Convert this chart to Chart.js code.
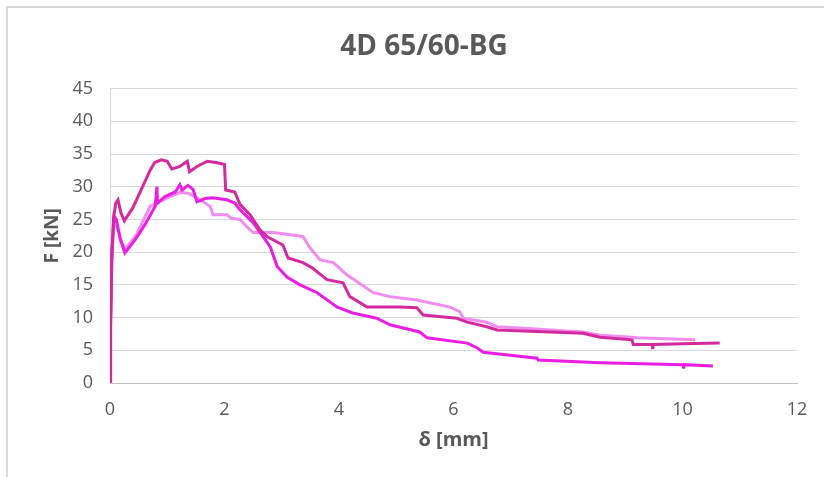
<!DOCTYPE html>
<html>
<head>
<meta charset="utf-8">
<script src="https://cdn.jsdelivr.net/npm/chart.js@4"></script>
<style>
  body { margin: 0; background: #fff; }
  #frame { position: absolute; left: 6px; top: 6px; width: 840px; height: 490px; border: 2px solid #d9d9d9; }
  #wrap { position: absolute; left: 0; top: 0; width: 824px; height: 477px; }
</style>
</head>
<body>
<div id="frame"></div>
<div id="wrap"><canvas id="myChart" width="824" height="477"></canvas></div>
<script>
// serie 1 (magenta escuro)
const s1X = [0, 0.01, 0.03, 0.06, 0.1, 0.14, 0.19, 0.25, 0.4, 0.58, 0.7, 0.78, 0.9, 1.0, 1.08, 1.22, 1.35, 1.39, 1.52, 1.7, 1.85, 2.0, 2.02, 2.18, 2.27, 2.45, 2.53, 2.62, 2.74, 3.02, 3.11, 3.37, 3.53, 3.79, 4.07, 4.19, 4.49, 5.07, 5.36, 5.47, 6.06, 6.24, 6.58, 6.76, 8.26, 8.56, 9.12, 9.14, 9.47, 9.48, 9.49, 10.01, 10.65];
const s1Y = [0, 8, 18, 25, 27.5, 28, 26, 24.8, 26.8, 30.2, 32.5, 33.7, 34.1, 33.9, 32.7, 33.1, 33.9, 32.3, 33.1, 33.9, 33.7, 33.4, 29.5, 29.2, 27.3, 25.7, 24.6, 23.4, 22.4, 21.1, 19.1, 18.4, 17.6, 15.8, 15.3, 13.2, 11.6, 11.6, 11.5, 10.4, 9.9, 9.3, 8.6, 8.1, 7.6, 7.0, 6.6, 5.9, 5.9, 5.2, 5.9, 6.0, 6.1];
// serie 2 (magenta vivo)
const s2X = [0, 0.01, 0.03, 0.07, 0.11, 0.18, 0.26, 0.44, 0.61, 0.79, 0.82, 0.83, 0.96, 1.14, 1.22, 1.26, 1.36, 1.45, 1.52, 1.66, 1.79, 2.04, 2.18, 2.27, 2.5, 2.67, 2.8, 2.92, 3.09, 3.32, 3.62, 3.97, 4.24, 4.66, 4.89, 5.41, 5.54, 6.24, 6.41, 6.52, 7.46, 7.48, 8.56, 10.01, 10.02, 10.03, 10.53];
const s2Y = [0, 10, 20, 25.5, 25, 22, 19.9, 21.9, 24.2, 27, 30, 27.5, 28.5, 29.2, 30.3, 29.5, 30.2, 29.6, 27.7, 28.2, 28.3, 28, 27.5, 26.5, 24.5, 22.4, 20.8, 17.8, 16.2, 15, 13.8, 11.6, 10.7, 9.9, 8.9, 7.8, 6.9, 6.1, 5.4, 4.7, 3.8, 3.5, 3.1, 2.8, 2.2, 2.8, 2.6];
// serie 3 (rosa claro)
const s3X = [0, 0.01, 0.03, 0.07, 0.12, 0.2, 0.27, 0.45, 0.7, 1.0, 1.22, 1.37, 1.52, 1.75, 1.8, 2.04, 2.12, 2.27, 2.39, 2.5, 2.85, 3.37, 3.49, 3.67, 3.9, 4.14, 4.31, 4.6, 4.89, 5.36, 5.94, 6.11, 6.17, 6.58, 6.76, 7.16, 8.26, 8.56, 9.12, 9.2, 10.22];
const s3Y = [0, 9, 19, 24.5, 24, 21.5, 20.5, 22.5, 27, 28.3, 29.1, 29, 28.3, 27, 25.7, 25.7, 25.2, 25, 23.9, 23, 23, 22.4, 20.7, 18.8, 18.4, 16.5, 15.5, 13.8, 13.2, 12.7, 11.6, 10.9, 9.9, 9.3, 8.6, 8.4, 7.8, 7.3, 7.0, 6.9, 6.6];

const xTicks = [0, 2, 4, 6, 8, 10, 12];
const yTicks = [0, 5, 10, 15, 20, 25, 30, 35, 40, 45];

function pontos(xs, ys) {
    return xs.map((x, i) => ({ x: x, y: ys[i] }));
}

function serie(label, xs, ys, cor) {
    return {
        label: label,
        data: pontos(xs, ys),
        borderColor: cor,
        backgroundColor: cor,
        borderWidth: 3,
        pointRadius: 0,
        showLine: true,
        tension: 0
    };
}

const fonte = 'Open Sans, sans-serif';

document.addEventListener('DOMContentLoaded', function () {
    var ctx = document.getElementById('myChart').getContext('2d');
    var myChart = new Chart(ctx, {
        type: 'scatter',
        data: {
            datasets: [
                serie('1', s1X, s1Y, '#d42aa0'),
                serie('2', s2X, s2Y, '#ea1ee2'),
                serie('3', s3X, s3Y, '#f28cf0')
            ]
        },
        options: {
            responsive: false,
            animation: false,
            layout: { padding: { left: 51, right: 27, top: 0, bottom: 0 } },
            plugins: {
                legend: { display: false },
                tooltip: { enabled: false },
                title: {
                    display: true,
                    text: '4D 65/60-BG',
                    color: '#595959',
                    font: { family: fonte, size: 28, weight: 'bold' },
                    padding: { top: 30, bottom: 25 }
                }
            },
            scales: {
                x: {
                    type: 'linear',
                    min: 0,
                    max: 12,
                    afterBuildTicks: (s) => { s.ticks = xTicks.map(v => ({ value: v })); },
                    afterFit: (s) => { s.height = 94; },
                    grid: { display: false, drawTicks: false },
                    border: { display: true, color: '#bfbfbf' },
                    ticks: { color: '#595959', font: { family: fonte, size: 18 }, padding: 16 },
                    title: {
                        display: true,
                        text: 'δ [mm]',
                        color: '#595959',
                        font: { family: fonte, size: 20, weight: 'bold' },
                        padding: { top: 0, bottom: 25 }
                    }
                },
                y: {
                    min: 0,
                    max: 45,
                    afterBuildTicks: (s) => { s.ticks = yTicks.map(v => ({ value: v })); },
                    afterFit: (s) => { s.width = 59; },
                    grid: { color: '#d9d9d9', drawTicks: false },
                    border: { display: true, color: '#d9d9d9' },
                    ticks: { color: '#595959', font: { family: fonte, size: 18 }, padding: 17 },
                    title: {
                        display: true,
                        text: 'F [kN]',
                        color: '#595959',
                        font: { family: fonte, size: 19, weight: 'bold' },
                        padding: { top: -10, bottom: 0 }
                    }
                }
            }
        }
    });
});
</script>
</body>
</html>
